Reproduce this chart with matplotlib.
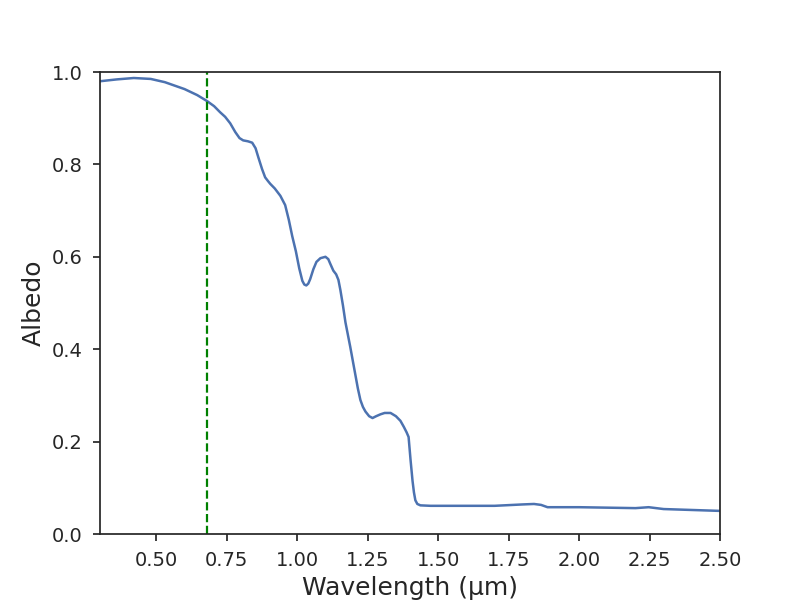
import numpy as np
import matplotlib
matplotlib.use('Agg')
import matplotlib.pyplot as plt
import seaborn as sns

# spectral albedo
wavelength = [0.30, 0.36, 0.42, 0.48, 0.53, 0.60, 0.645, 0.68, 0.705, 0.726,
              0.744, 0.762, 0.78, 0.795, 0.808, 0.825, 0.84, 0.852, 0.862,
              0.875, 0.886, 0.896, 0.904, 0.92, 0.94, 0.957, 0.97, 0.982,
              0.995, 1.007, 1.018, 1.025, 1.032, 1.039, 1.046, 1.057, 1.068,
              1.082, 1.10, 1.11, 1.117, 1.128, 1.138, 1.146, 1.153, 1.162,
              1.171, 1.188, 1.206, 1.215, 1.224, 1.233, 1.242, 1.255, 1.267,
              1.28, 1.295, 1.31, 1.331, 1.35, 1.366, 1.378, 1.388, 1.395,
              1.402, 1.409, 1.414, 1.419, 1.426, 1.437, 1.473, 1.60, 1.70,
              1.80, 1.84, 1.865, 1.888, 2.00, 2.10, 2.20, 2.247, 2.30, 2.40,
              2.50]
albedo = [0.980, 0.984, 0.987, 0.985, 0.978, 0.963, 0.950, 0.937, 0.926, 0.913,
          0.903, 0.889, 0.870, 0.857, 0.852, 0.850, 0.847, 0.835, 0.815,
          0.790, 0.772, 0.764, 0.758, 0.748, 0.732, 0.712, 0.680, 0.645,
          0.612, 0.575, 0.548, 0.540, 0.538, 0.542, 0.552, 0.573, 0.589,
          0.597, 0.600, 0.595, 0.585, 0.570, 0.562, 0.550, 0.528, 0.495,
          0.458, 0.405, 0.345, 0.315, 0.290, 0.275, 0.265, 0.255, 0.251,
          0.255, 0.259, 0.262, 0.262, 0.255, 0.245, 0.232, 0.220, 0.210,
          0.160, 0.115, 0.090, 0.073, 0.065, 0.062, 0.061, 0.061, 0.061,
          0.064, 0.065, 0.063, 0.058, 0.058, 0.057, 0.056, 0.058, 0.054,
          0.052, 0.050]

cutoff = 0.68

sns.set_style('ticks')
plt.rcParams['font.family'] = ['DejaVu Sans']

fig, ax = plt.subplots(1, 1, figsize=(8, 6), dpi=100)
ax.plot(wavelength, albedo, c='#4C72B0', lw=1.8)
ax.axvline(cutoff, color='green', ls='--', lw=1.6)

ax.set_xlim(0.3, 2.5)
ax.set_ylim(0.0, 1.0)
ax.set_xticks([0.5, 0.75, 1.0, 1.25, 1.5, 1.75, 2.0, 2.25, 2.5])
ax.set_xlabel('Wavelength (μm)', fontsize=18, labelpad=4)
ax.set_ylabel('Albedo', fontsize=18, labelpad=4)
ax.tick_params(labelsize=14, length=5, width=1.25, pad=7.5)
for s in ax.spines.values():
    s.set_linewidth(1.25)

plt.savefig('out.png', dpi=100)
